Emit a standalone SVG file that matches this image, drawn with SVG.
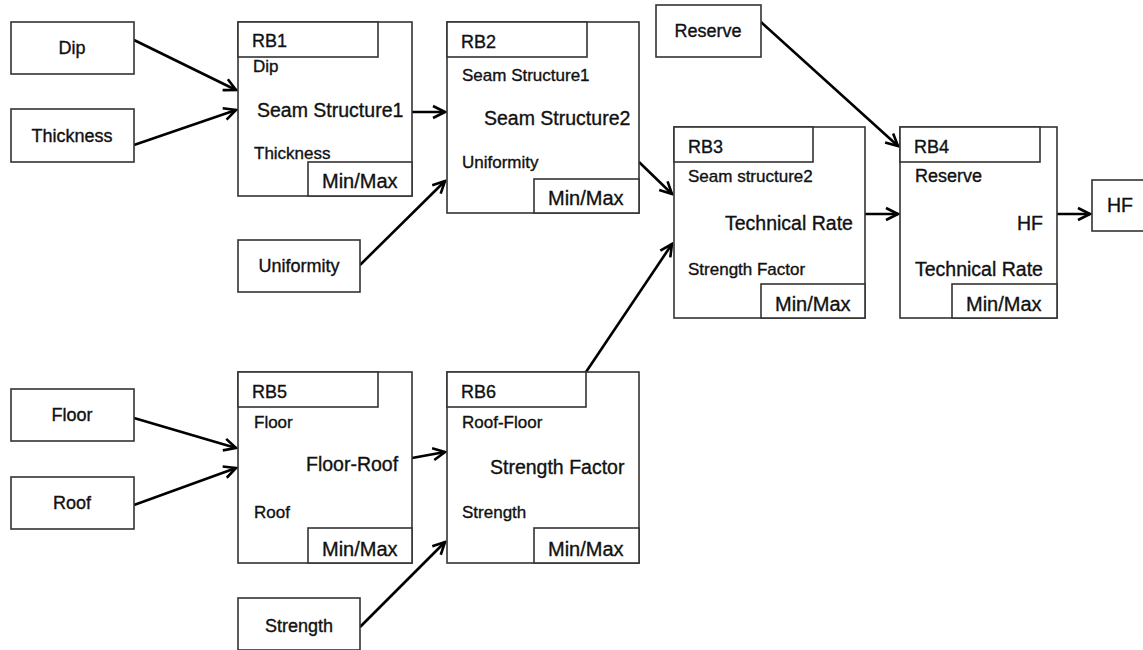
<svg xmlns="http://www.w3.org/2000/svg" width="1143" height="650" viewBox="0 0 1143 650">
<style>
.b{fill:#fff;stroke:#333;stroke-width:1.6}
.t{font-family:"Liberation Sans",Arial,sans-serif;fill:#111;stroke:#111;stroke-width:0.35}
.l{font-size:19.5px}
.mm{font-size:20px}
.m{font-size:18px}
.s{font-size:17px}
.c{stroke:#000;stroke-width:2.6;fill:none;marker-end:url(#a)}
</style>
<defs>
<marker id="a" markerUnits="userSpaceOnUse" markerWidth="16" markerHeight="16" viewBox="0 0 16 16" refX="14" refY="8" orient="auto">
<path d="M2,2 L14,8 L2,14" fill="none" stroke="#000" stroke-width="2.6"/>
</marker>
</defs>
<rect width="1143" height="650" fill="#fff"/>
<g id="connectors">
<line class="c" x1="134" y1="40" x2="236" y2="90"/>
<line class="c" x1="134" y1="145" x2="236" y2="110"/>
<line class="c" x1="412" y1="112" x2="445" y2="112"/>
<line class="c" x1="360" y1="265" x2="445" y2="181"/>
<line class="c" x1="639" y1="162" x2="672" y2="194"/>
<line class="c" x1="761" y1="22" x2="898" y2="146"/>
<line class="c" x1="865" y1="214" x2="898" y2="214"/>
<line class="c" x1="1057" y1="214" x2="1090" y2="214"/>
<line class="c" x1="134" y1="418" x2="236" y2="448"/>
<line class="c" x1="134" y1="505" x2="236" y2="468"/>
<line class="c" x1="412" y1="458" x2="445" y2="452"/>
<line class="c" x1="360" y1="627" x2="445" y2="542"/>
<line class="c" x1="586" y1="372" x2="672" y2="244"/>
</g>
<g id="dip"><rect class="b" x="11" y="22" width="123" height="52"/><text class="t m" x="72" y="54" text-anchor="middle">Dip</text></g>
<g id="thickness"><rect class="b" x="11" y="109" width="123" height="53"/><text class="t m" x="72" y="142" text-anchor="middle">Thickness</text></g>
<g id="uniformity"><rect class="b" x="238" y="240" width="122" height="52"/><text class="t m" x="299" y="272" text-anchor="middle">Uniformity</text></g>
<g id="reserve"><rect class="b" x="656" y="5" width="105" height="52"/><text class="t m" x="708" y="37" text-anchor="middle">Reserve</text></g>
<g id="floor"><rect class="b" x="11" y="389" width="123" height="52"/><text class="t m" x="72" y="421" text-anchor="middle">Floor</text></g>
<g id="roof"><rect class="b" x="11" y="477" width="123" height="52"/><text class="t m" x="72" y="509" text-anchor="middle">Roof</text></g>
<g id="strength"><rect class="b" x="238" y="598" width="122" height="52"/><text class="t m" x="299" y="632" text-anchor="middle">Strength</text></g>
<g id="hf"><rect class="b" x="1092" y="180" width="55" height="51"/><text class="t l" x="1107" y="212">HF</text></g>
<g id="rb1">
<rect class="b" x="238" y="22" width="174" height="174"/>
<rect class="b" x="238" y="22" width="140" height="35"/>
<rect class="b" x="308" y="162" width="104" height="34"/>
<text class="t m" x="252" y="47">RB1</text>
<text class="t s" x="253" y="72">Dip</text>
<text class="t l" x="257" y="117">Seam Structure1</text>
<text class="t s" x="254" y="159">Thickness</text>
<text class="t mm" x="322" y="188">Min/Max</text>
</g>
<g id="rb2">
<rect class="b" x="447" y="22" width="192" height="191"/>
<rect class="b" x="447" y="22" width="140" height="35"/>
<rect class="b" x="534" y="179" width="105" height="34"/>
<text class="t m" x="461" y="48">RB2</text>
<text class="t s" x="462" y="81">Seam Structure1</text>
<text class="t l" x="484" y="125">Seam Structure2</text>
<text class="t s" x="462" y="168">Uniformity</text>
<text class="t mm" x="548" y="205">Min/Max</text>
</g>
<g id="rb3">
<rect class="b" x="674" y="127" width="191" height="191"/>
<rect class="b" x="674" y="127" width="139" height="35"/>
<rect class="b" x="761" y="284" width="104" height="34"/>
<text class="t m" x="688" y="153">RB3</text>
<text class="t s" x="688" y="182">Seam structure2</text>
<text class="t l" x="725" y="230">Technical Rate</text>
<text class="t s" x="688" y="275">Strength Factor</text>
<text class="t mm" x="775" y="311">Min/Max</text>
</g>
<g id="rb4">
<rect class="b" x="900" y="127" width="157" height="191"/>
<rect class="b" x="900" y="127" width="140" height="35"/>
<rect class="b" x="952" y="284" width="105" height="34"/>
<text class="t m" x="914" y="153">RB4</text>
<text class="t m" x="915" y="182">Reserve</text>
<text class="t l" x="1043" y="230" text-anchor="end">HF</text>
<text class="t l" x="915" y="276">Technical Rate</text>
<text class="t mm" x="966" y="311">Min/Max</text>
</g>
<g id="rb5">
<rect class="b" x="238" y="372" width="174" height="191"/>
<rect class="b" x="238" y="372" width="140" height="35"/>
<rect class="b" x="308" y="528" width="104" height="35"/>
<text class="t m" x="252" y="398">RB5</text>
<text class="t s" x="254" y="428">Floor</text>
<text class="t l" x="306" y="471">Floor-Roof</text>
<text class="t s" x="254" y="518">Roof</text>
<text class="t mm" x="322" y="556">Min/Max</text>
</g>
<g id="rb6">
<rect class="b" x="447" y="372" width="192" height="191"/>
<rect class="b" x="447" y="372" width="139" height="35"/>
<rect class="b" x="534" y="528" width="105" height="35"/>
<text class="t m" x="461" y="398">RB6</text>
<text class="t s" x="462" y="428">Roof-Floor</text>
<text class="t l" x="490" y="474">Strength Factor</text>
<text class="t s" x="462" y="518">Strength</text>
<text class="t mm" x="548" y="556">Min/Max</text>
</g>
</svg>
